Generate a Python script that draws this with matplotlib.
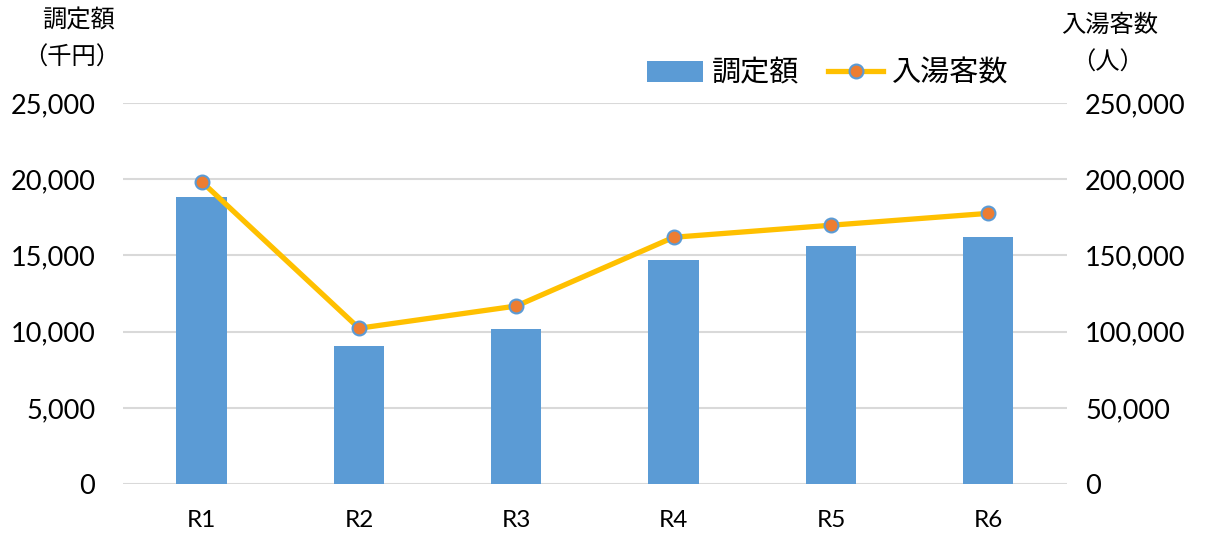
import numpy as np
import matplotlib.pyplot as plt

plt.rcParams["font.family"] = ["Lato", "Noto Sans CJK JP", "DejaVu Sans"]

categories = ["R1", "R2", "R3", "R4", "R5", "R6"]
amount = [18800, 9050, 10200, 14700, 15600, 16200]          # 調定額 (千円)
visitors = [198400, 102200, 116800, 161900, 169800, 177600]  # 入湯客数 (人)

left_ticks = [0, 5000, 10000, 15000, 20000, 25000]
right_ticks = [0, 50000, 100000, 150000, 200000, 250000]

bar_color = "#5B9BD5"
line_color = "#FFC000"
marker_color = "#ED7D31"
grid_color = "#D9D9D9"
text_color = "#000000"

fig = plt.figure(figsize=(12.07, 5.34), dpi=100)
ax = fig.add_axes([0.1019, 0.0936, 0.7821, 0.7135])
ax2 = ax.twinx()

x = np.arange(len(categories))
bars = ax.bar(x, amount, width=0.32, color=bar_color, zorder=2, label="調定額")
line, = ax2.plot(x, visitors, color=line_color, linewidth=3.8, marker="o",
                 markersize=10, markerfacecolor=marker_color,
                 markeredgecolor=bar_color, markeredgewidth=1.5,
                 zorder=3, label="入湯客数")

ax.set_xlim(-0.5, len(categories) - 0.5)
ax.set_ylim(0, 25000)
ax2.set_ylim(0, 250000)
ax.set_yticks(left_ticks, labels=[f"{v:,}" for v in left_ticks])
ax2.set_yticks(right_ticks, labels=[f"{v:,}" for v in right_ticks])
ax.set_xticks(x, labels=categories)

for a in (ax, ax2):
    for s in a.spines.values():
        s.set_visible(False)
    a.tick_params(length=0, labelsize=19.5, colors=text_color)
ax.tick_params(axis="y", pad=20)
ax2.tick_params(axis="y", pad=13)
ax.tick_params(axis="x", pad=19, labelsize=17.5)
for lbl in ax2.get_yticklabels():
    lbl.set_horizontalalignment("left")

ax.grid(axis="y", color=grid_color, linewidth=1.5, zorder=0)
ax.set_axisbelow(True)
ax2.set_zorder(ax.get_zorder() + 1)
ax2.patch.set_visible(False)

# axis titles
fig.text(79 / 1207, 1 - 20 / 534, "調定額", ha="center", va="center", fontsize=17.5)
fig.text(72 / 1207, 1 - 57 / 534, "（千円）", ha="center", va="center", fontsize=17.5)
fig.text(1110 / 1207, 1 - 25 / 534, "入湯客数", ha="center", va="center", fontsize=17.5)
fig.text(1108 / 1207, 1 - 62 / 534, "（人）", ha="center", va="center", fontsize=17.5)

fig.legend(handles=[bars, line], loc="center", bbox_to_anchor=(828 / 1207, 1 - 73 / 534),
           ncol=2, frameon=False, fontsize=21, handlelength=1.9, handletextpad=0.3,
           columnspacing=1.0)

fig.savefig("out.png", dpi=100)
plt.close(fig)
